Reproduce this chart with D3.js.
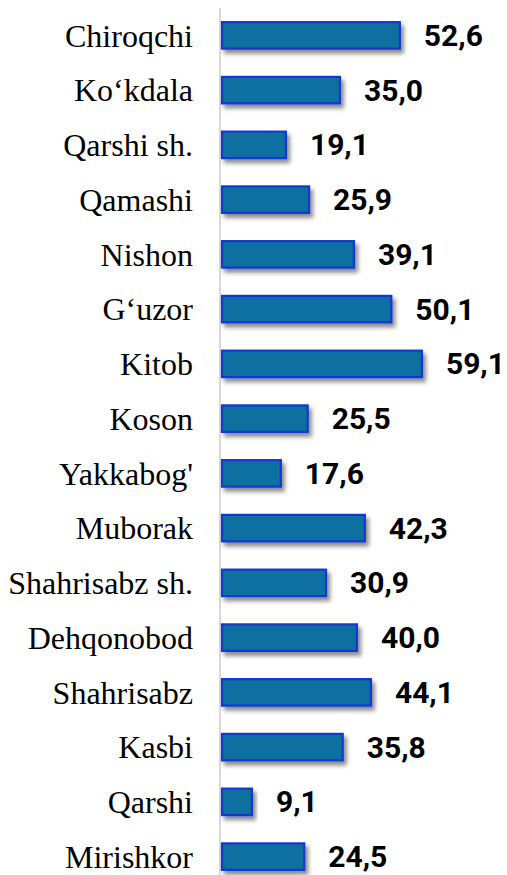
<!DOCTYPE html>
<html><head><meta charset="utf-8">
<script src="https://cdn.jsdelivr.net/npm/d3@7"></script>
<style>html,body{margin:0;padding:0;background:#fff;}</style>
</head><body>
<svg id="c" width="507" height="875"></svg>
<script>
const categories = ["Chiroqchi","Ko‘kdala","Qarshi sh.","Qamashi","Nishon","G‘uzor","Kitob","Koson","Yakkabog'","Muborak","Shahrisabz sh.","Dehqonobod","Shahrisabz ","Kasbi","Qarshi","Mirishkor"];
const values = [52.6,35.0,19.1,25.9,39.1,50.1,59.1,25.5,17.6,42.3,30.9,40.0,44.1,35.8,9.1,24.5];
const valueLabels = ["52,6","35,0","19,1","25,9","39,1","50,1","59,1","25,5","17,6","42,3","30,9","40,0","44,1","35,8","9,1","24,5"];

const svg = d3.select("#c");
const x = d3.scaleLinear().domain([0, 60]).range([221, 425]);
const y = d3.scaleBand().domain(categories).range([8, 884]).paddingInner(0.48).paddingOuter(0.24);

const defs = svg.append("defs");
const f = defs.append("filter").attr("id","sh").attr("x","-10%").attr("y","-30%").attr("width","130%").attr("height","180%");
f.append("feDropShadow").attr("dx",3).attr("dy",4).attr("stdDeviation",2.2).attr("flood-color","#000").attr("flood-opacity",0.45);

svg.append("line").attr("x1",220).attr("x2",220).attr("y1",8).attr("y2",875)
  .attr("stroke","#d9d9d9").attr("stroke-width",2);

svg.append("g").selectAll("rect").data(values).join("rect")
  .attr("x", x(0)+1)
  .attr("y", (d,i)=>y(categories[i])+1)
  .attr("width", d=>x(d)-x(0)-1)
  .attr("height", y.bandwidth()-2)
  .attr("fill","#0B6FA0")
  .attr("stroke","#1238D0")
  .attr("stroke-width",2.2)
  .attr("filter","url(#sh)");

svg.append("g").selectAll("text").data(categories).join("text")
  .attr("x",193)
  .attr("y",(d)=>y(d)+y.bandwidth()/2)
  .attr("dy","0.35em")
  .attr("text-anchor","end")
  .attr("font-family","Liberation Serif")
  .attr("font-size",32)
  .attr("fill","#000")
  .text(d=>d);

svg.append("g").selectAll("text").data(values).join("text")
  .attr("x",(d)=>x(d)+24)
  .attr("y",(d,i)=>y(categories[i])+y.bandwidth()/2)
  .attr("dy","0.35em")
  .attr("font-family","Roboto")
  .attr("font-weight",700)
  .attr("font-size",30)
  .attr("fill","#000")
  .text((d,i)=>valueLabels[i]);
</script>
</body></html>
